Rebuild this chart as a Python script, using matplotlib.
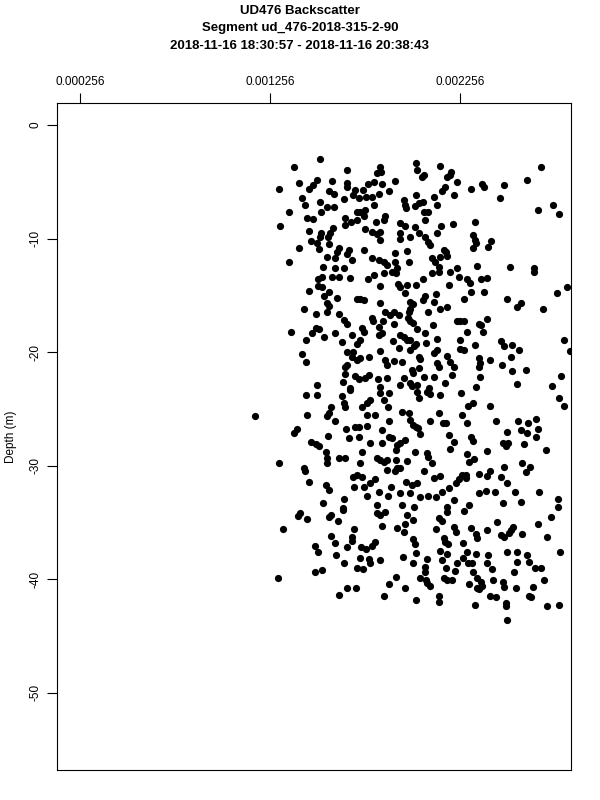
import numpy as np
import matplotlib
matplotlib.use("Agg")
import matplotlib.pyplot as plt

plt.rcParams['font.family'] = ['Liberation Sans', 'DejaVu Sans']

# backscatter in units of 1e-6, depth in metres (negative = below surface)
upper = [
    (1519, -3.0), (1383, -3.7), (1661, -4.0), (1304, -5.6), (1409, -5.1), (1503, -4.8),
    (1482, -5.3), (1461, -5.6), (1582, -4.9), (1661, -5.1), (1661, -5.5), (1703, -5.7),
    (1693, -6.2), (1566, -5.8), (1593, -6.1), (1425, -6.4), (1519, -6.8), (1645, -6.5),
    (1440, -7.0), (1556, -7.2), (1593, -7.2), (1524, -7.7), (1356, -7.7), (1714, -7.7),
    (1451, -8.2), (1482, -8.3), (1651, -8.2), (1682, -8.5), (1651, -8.8), (1714, -8.4),
    (1309, -8.9), (1588, -9.1), (1572, -9.5), (1561, -9.9), (1461, -9.3), (1524, -9.5),
    (1519, -9.9), (1472, -10.2), (1503, -10.4), (1566, -10.5), (1514, -10.9), (1619, -10.8),
    (1609, -11.2), (1409, -10.8), (1672, -11.0), (1661, -11.4), (1688, -11.9), (1556, -11.6),
    (1598, -11.7), (1356, -12.1), (1535, -12.5), (1598, -12.6), (1645, -12.6),
    (2024, -3.3), (1835, -3.7), (1819, -4.2), (1840, -4.1), (2151, -3.6), (2030, -4.0),
    (2066, -4.4), (2056, -4.6), (2209, -4.1), (2203, -4.4), (2188, -4.6), (2240, -5.0),
    (1914, -4.9), (1803, -5.0), (1845, -5.2), (1772, -5.2), (1745, -5.7), (2177, -5.5),
    (2161, -5.8), (1882, -5.8), (1830, -6.1), (1793, -6.3), (1724, -6.4), (1761, -6.3),
    (2224, -6.2), (2024, -6.2), (1961, -6.6), (1966, -7.0), (1972, -7.3), (2040, -6.9),
    (2061, -6.8), (2019, -7.1), (2119, -6.3), (2135, -7.0), (1803, -7.0), (1756, -7.5),
    (1730, -7.7), (2066, -7.7), (2087, -7.7), (2072, -8.4), (1861, -8.0), (1856, -8.4),
    (1751, -8.0), (1814, -8.5), (1940, -8.6), (1966, -8.9), (2019, -9.0), (2156, -8.9),
    (2219, -8.7), (1756, -9.2), (1793, -9.4), (1819, -9.6), (1835, -9.4), (1940, -9.5),
    (2040, -9.5), (2135, -9.5), (1835, -10.1), (1940, -10.0), (1993, -9.9), (2072, -9.9),
    (2087, -10.3), (2098, -10.6), (2172, -11.0), (2182, -11.2), (1751, -11.0), (1914, -11.3),
    (1977, -11.1), (1793, -11.7), (1830, -11.9), (1856, -12.1), (1872, -12.3), (1914, -12.1),
    (1987, -12.1), (2108, -11.7), (2124, -12.1), (2151, -11.6), (2188, -11.5), (2240, -12.6),
    (2145, -12.5), (1924, -12.6),
    (2682, -3.7), (2608, -4.8), (2372, -5.2), (2382, -5.5), (2314, -5.6), (2487, -5.3),
    (2466, -6.4), (2745, -7.0), (2777, -7.8), (2666, -7.5), (2335, -8.5), (2324, -9.7),
    (2335, -10.1), (2340, -10.4), (2324, -10.8), (2419, -10.2), (2403, -10.7), (2345, -12.4),
    (2519, -12.5), (2645, -12.6),
]

middle = [
    (1530, -13.4), (1582, -13.4), (1619, -13.4), (1677, -13.5), (1509, -13.6), (1509, -14.2),
    (1530, -14.3), (1461, -14.6), (1566, -14.7), (1540, -15.1), (1609, -15.2), (1714, -15.3),
    (1556, -15.7), (1566, -15.9), (1435, -16.2), (1498, -16.6), (1556, -16.5), (1619, -16.6),
    (1645, -17.2), (1661, -17.5), (1367, -18.2), (1498, -17.9), (1514, -18.0), (1477, -18.3),
    (1598, -18.3), (1688, -18.5), (1446, -18.9), (1540, -18.7), (1635, -19.1), (1714, -19.3),
    (1425, -20.2), (1446, -20.9), (1661, -20.0), (1693, -20.0), (1688, -20.4), (1714, -20.7),
    (1661, -21.1), (1651, -21.3), (1651, -21.9), (1703, -22.1), (1503, -22.9), (1640, -22.6),
    (1677, -23.2),
    (1803, -13.2), (1856, -13.0), (1898, -12.9), (1919, -13.0), (2108, -13.0), (2145, -12.9),
    (2203, -12.9), (2251, -13.4), (1772, -13.6), (1835, -14.2), (1930, -14.0), (1940, -14.3),
    (1977, -14.1), (2024, -14.1), (2061, -13.6), (2198, -14.1), (1966, -14.8), (2130, -14.9),
    (2072, -15.1), (2061, -15.4), (2277, -15.3), (1730, -15.3), (1751, -15.4), (1835, -15.7),
    (1993, -15.6), (2008, -15.8), (2119, -15.6), (2188, -16.0), (2151, -16.2), (1993, -16.2),
    (1987, -16.5), (1861, -16.5), (1888, -16.7), (1909, -16.5), (1935, -16.7), (2087, -16.5),
    (1793, -17.0), (1798, -17.3), (1982, -17.0), (1993, -17.3), (2008, -17.4), (2240, -17.3),
    (2256, -17.3), (1851, -17.3), (1909, -17.5), (2114, -17.6), (1740, -17.9), (1751, -18.2),
    (1830, -17.8), (2030, -18.0), (1845, -18.3), (1830, -18.5), (2072, -18.3), (1940, -18.5),
    (1961, -18.7), (1977, -18.9), (1993, -18.9), (2135, -18.8), (1730, -18.9), (2256, -18.9),
    (1903, -19.0), (2077, -19.2), (2024, -19.3), (2014, -19.5), (1935, -19.6), (1835, -19.9),
    (2256, -19.7), (2277, -19.8), (1993, -19.8), (2135, -19.8), (2119, -20.1), (1730, -20.5),
    (1777, -20.4), (2040, -20.4), (2045, -20.6), (2188, -20.3), (2203, -20.9), (1861, -20.7),
    (1909, -20.8), (1951, -20.9), (2135, -21.0), (2145, -21.3), (1872, -21.1), (2224, -21.3),
    (2040, -21.4), (2003, -21.6), (2008, -21.8), (2214, -22.0), (1777, -22.0), (1756, -22.3),
    (1872, -22.3), (1961, -22.3), (2066, -22.2), (2119, -22.2), (1824, -22.4), (1993, -22.7),
    (2003, -23.0), (2030, -22.9), (2177, -22.7), (1940, -22.9), (1835, -23.1), (2093, -23.2),
    (1724, -22.4),
    (2293, -13.6), (2309, -13.9), (2366, -13.6), (2398, -13.5), (2645, -12.9), (2314, -14.7),
    (2382, -14.7), (2503, -15.3), (2577, -15.7), (2556, -16.0), (2693, -16.2), (2766, -14.8),
    (2819, -14.3), (2277, -17.3), (2356, -17.5), (2366, -17.6), (2398, -17.1), (2293, -18.2),
    (2377, -18.2), (2472, -19.0), (2487, -19.5), (2529, -19.4), (2566, -19.8), (2335, -19.4),
    (2803, -18.9), (2835, -19.9), (2524, -20.4), (2356, -20.5), (2361, -21.0), (2356, -21.3),
    (2414, -20.7), (2477, -21.1), (2529, -21.7), (2603, -21.6), (2787, -22.1), (2361, -22.2),
    (2556, -22.8), (2740, -23.0), (2340, -23.1),
]

lower = [
    (1446, -23.8), (1503, -23.8), (1635, -23.9), (1645, -24.5), (1651, -24.8), (1677, -23.3),
    (1577, -24.8), (1177, -25.6), (1451, -25.5), (1566, -25.4), (1556, -25.6), (1598, -26.1),
    (1703, -26.6), (1656, -26.8), (1398, -26.8), (1383, -27.1), (1561, -27.4), (1672, -27.6),
    (1472, -27.9), (1498, -28.1), (1514, -28.3), (1551, -28.8), (1556, -29.3), (1556, -29.8),
    (1619, -29.3), (1651, -29.3), (1304, -29.8), (1435, -30.2), (1440, -30.5), (1693, -31.0),
    (1714, -30.8), (1461, -31.4), (1551, -31.7), (1566, -32.1), (1698, -31.9), (1535, -33.3),
    (1645, -32.9), (1640, -33.7),
    (1835, -23.6), (1882, -23.6), (2030, -23.5), (2082, -23.5), (2098, -23.7), (2040, -24.0),
    (2151, -23.8), (2261, -23.6), (1782, -24.2), (1767, -24.5), (1740, -24.8), (1856, -24.2),
    (1877, -24.8), (1767, -25.5), (1809, -25.5), (1951, -25.3), (1987, -25.4), (2145, -25.4),
    (2166, -26.2), (2182, -26.2), (2266, -25.5), (1882, -26.1), (1993, -26.0), (2008, -26.4),
    (2024, -26.6), (2035, -26.7), (2098, -26.1), (1767, -26.5), (1724, -26.6), (1845, -26.9),
    (2045, -27.2), (1724, -27.5), (1882, -27.5), (1898, -27.6), (2198, -27.3), (1966, -27.7),
    (1940, -28.0), (1924, -28.2), (1782, -28.0), (1845, -28.0), (2224, -27.9), (1919, -28.6),
    (1740, -28.8), (2203, -28.5), (2019, -28.8), (2082, -28.9), (2087, -29.2), (1819, -29.3),
    (1835, -29.5), (1856, -29.7), (1872, -29.5), (1919, -29.5), (1977, -29.6), (2108, -29.8),
    (1730, -29.8), (1924, -30.2), (1940, -30.2), (1914, -30.5), (1872, -30.4), (2066, -30.5),
    (2151, -30.9), (2119, -31.1), (2266, -30.8), (2251, -31.2), (1740, -31.0), (1809, -31.2),
    (1782, -31.5), (1751, -31.9), (1972, -31.4), (2003, -31.7), (2030, -31.5), (1893, -31.9),
    (2198, -32.0), (2235, -31.5), (1830, -32.3), (1940, -32.4), (1993, -32.4), (2161, -32.3),
    (1767, -32.7), (1877, -32.7), (2045, -32.8), (2087, -32.7), (2130, -32.8), (2224, -33.0),
    (1951, -33.5), (1819, -33.5), (2188, -33.6), (2014, -33.6),
    (2298, -24.7), (2324, -24.5), (2414, -24.7), (2777, -24.0), (2803, -24.7), (2293, -26.2),
    (2445, -26.1), (2561, -26.1), (2614, -26.2), (2656, -25.9), (2503, -27.0), (2577, -26.9),
    (2608, -27.1), (2666, -26.8), (2656, -27.5), (2314, -27.5), (2324, -27.8), (2482, -28.0),
    (2498, -28.3), (2508, -28.0), (2593, -28.1), (2708, -28.6), (2398, -28.7), (2293, -29.0),
    (2303, -29.7), (2330, -29.4), (2487, -30.1), (2582, -29.8), (2624, -30.1), (2603, -30.6),
    (2287, -30.8), (2287, -31.1), (2356, -30.7), (2414, -30.5), (2398, -30.9), (2472, -31.0),
    (2503, -31.5), (2356, -32.4), (2393, -32.2), (2440, -32.3), (2545, -32.3), (2672, -32.3),
    (2772, -32.9), (2772, -33.6), (2303, -33.5), (2482, -33.3), (2577, -33.2),
]

bottom = [
    (1414, -34.2), (1404, -34.4), (1451, -34.7), (1577, -34.3), (1566, -34.5), (1614, -34.9),
    (1640, -33.9), (1325, -35.6), (1577, -36.2), (1698, -35.6), (1688, -36.3), (1688, -36.6),
    (1598, -36.8), (1493, -37.1), (1509, -37.6), (1661, -37.2), (1603, -37.9), (1645, -38.6),
    (1714, -39.0), (1530, -39.2), (1493, -39.4), (1298, -39.9), (1661, -40.8), (1619, -41.4),
    (1709, -40.8),
    (1819, -34.2), (1835, -34.3), (1861, -34.1), (1977, -34.3), (2008, -34.8), (2145, -34.6),
    (2161, -34.9), (2188, -34.1), (1845, -35.3), (1966, -35.1), (1924, -35.5), (1961, -35.8),
    (2130, -35.6), (2224, -35.4), (2235, -35.8), (2172, -36.4), (2177, -36.7), (2193, -36.9),
    (2008, -36.5), (2019, -36.9), (2272, -36.8), (1809, -36.7), (1793, -37.1), (1735, -37.2),
    (1761, -37.3), (2151, -37.5), (2024, -37.7), (2188, -37.8), (1956, -38.0), (1730, -38.1),
    (1777, -38.2), (1782, -38.6), (1835, -38.3), (2082, -38.2), (2161, -38.3), (2272, -38.1),
    (2008, -38.6), (2240, -38.6), (1745, -39.1), (2072, -38.9), (2072, -39.4), (2182, -39.0),
    (2230, -39.3), (1919, -39.8), (2045, -39.9), (2077, -40.1), (2082, -40.3), (2098, -40.6),
    (2172, -39.9), (2188, -40.1), (2214, -40.1), (1882, -40.4), (1966, -40.8), (1856, -41.5),
    (2024, -41.8), (2145, -41.5), (2145, -42.0),
    (2277, -34.0), (2735, -34.5), (2451, -35.0), (2535, -35.4), (2524, -35.7), (2514, -35.9),
    (2314, -35.5), (2398, -35.7), (2666, -35.1), (2340, -36.0), (2345, -36.4), (2472, -36.1),
    (2487, -36.3), (2582, -36.0), (2714, -36.3), (2293, -37.6), (2340, -37.8), (2403, -37.9),
    (2503, -37.6), (2556, -37.6), (2608, -37.9), (2619, -38.5), (2782, -37.6), (2298, -38.6),
    (2319, -38.6), (2398, -38.6), (2424, -39.1), (2556, -38.5), (2651, -39.0), (2682, -39.0),
    (2324, -39.4), (2540, -39.4), (2345, -39.9), (2366, -40.2), (2345, -40.8), (2303, -40.4),
    (2430, -40.1), (2482, -40.2), (2487, -40.7), (2551, -40.8), (2640, -40.7), (2698, -40.1),
    (2372, -40.6), (2356, -40.9), (2414, -41.5), (2445, -41.6), (2619, -41.5), (2630, -41.6),
    (2335, -42.3), (2498, -42.1), (2498, -42.4), (2714, -42.4), (2777, -42.3), (2503, -43.6),
]

x_ticks = [0.000256, 0.001256, 0.002256]
y_ticks = [0, -10, -20, -30, -40, -50]
title_lines = ["UD476 Backscatter",
               "Segment ud_476-2018-315-2-90",
               "2018-11-16 18:30:57 - 2018-11-16 20:38:43"]

pts = np.array(upper + middle + lower + bottom, dtype=float)
backscatter = pts[:, 0] * 1e-6
depth = pts[:, 1]

fig = plt.figure(figsize=(6, 8), dpi=100)
ax = fig.add_axes([57 / 600, 30 / 800, 514 / 600, 667 / 800])
ax.plot(backscatter, depth, 'o', color='black', ms=5.2, mew=0, clip_on=True)

ax.set_xlim(0.000135, 0.002840)
ax.set_ylim(-56.8, 1.94)

ax.xaxis.tick_top()
ax.set_xticks(x_ticks)
ax.set_xticklabels([f"{v:.6f}" for v in x_ticks])
ax.set_yticks(y_ticks)
ax.set_yticklabels([str(v) for v in y_ticks], rotation=90, va='center')
ax.tick_params(direction='out', length=7, width=0.8, labelsize=8.5, pad=4)
ax.set_ylabel("Depth (m)", fontsize=8.5, labelpad=9)
for s in ax.spines.values():
    s.set_linewidth(0.8)

for i, line in enumerate(title_lines):
    fig.text(0.5, 1 - (11 + 17.5 * i) / 800, line, ha='center', va='center',
             fontsize=9.5, fontweight='bold')

fig.savefig("out.png", dpi=100)
